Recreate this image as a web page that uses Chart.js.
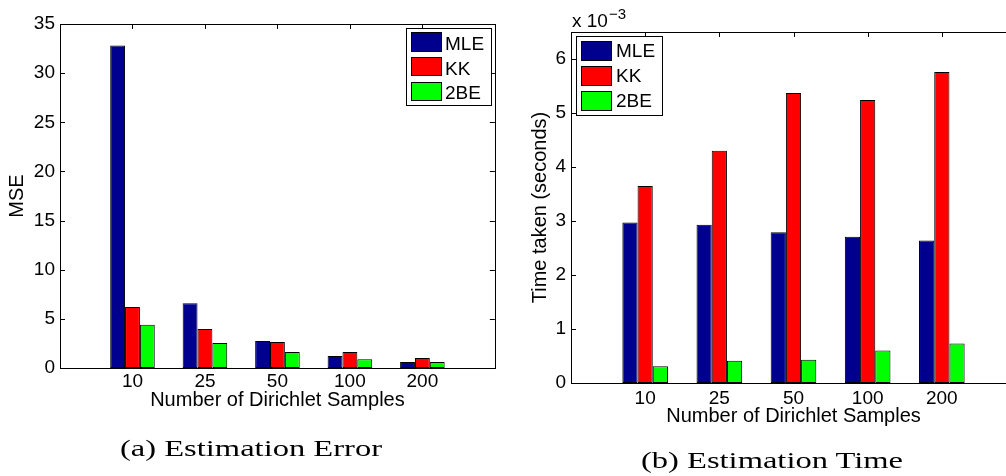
<!DOCTYPE html>
<html>
<head>
<meta charset="utf-8">
<script src="https://cdn.jsdelivr.net/npm/chart.js@4.4.0/dist/chart.umd.min.js"></script>
<style>
  html, body { margin: 0; padding: 0; background: #fff; overflow: hidden; }
  #wrap { position: relative; width: 1006px; height: 476px; overflow: hidden; }
  canvas { position: absolute; top: 0; }
  #errChart { left: 0; }
  #timeChart { left: 500px; }
  .lgbox { position: absolute; border: 1px solid #000; background: #fff; box-sizing: border-box; }
  .sw { position: absolute; border: 1px solid #000; box-sizing: border-box; }
  .lt { position: absolute; font: 19px/19px "Liberation Sans", Arial, sans-serif; color: #000; white-space: nowrap; }
  .cap { position: absolute; font: 24px/24px "Liberation Serif", serif; color: #000; white-space: nowrap; transform-origin: 0 0; }
</style>
</head>
<body>
<div id="wrap">
  <canvas id="errChart" width="500" height="476"></canvas>
  <canvas id="timeChart" width="530" height="476"></canvas>
  <div class="lt" style="left:572px;top:10.6px;">x 10</div>
  <div class="lt" style="left:609px;top:5.6px;font-size:15px;line-height:15px;">&minus;3</div>
  <div class="cap" id="capA" style="left:120px;top:436px;">(a) Estimation Error</div>
  <div class="cap" id="capB" style="left:641px;top:447.6px;">(b) Estimation Time</div>
</div>
<script>
// categories and series
const sampleSizes = ['10', '25', '50', '100', '200'];
const methodNames = ['MLE', 'KK', '2BE'];

// (a) mean squared error
const mseMLE = [32.8, 6.6, 2.75, 1.22, 0.62];
const mseKK = [6.2, 3.98, 2.65, 1.62, 1.02];
const mse2BE = [4.4, 2.55, 1.62, 0.9, 0.62];

// (b) time taken, in units of 10^-3 seconds
const timeMLE = [2.97, 2.93, 2.79, 2.71, 2.64];
const timeKK = [3.65, 4.30, 5.37, 5.24, 5.76];
const time2BE = [0.31, 0.41, 0.43, 0.60, 0.73];

// tick labels
const mseTicks = [0, 5, 10, 15, 20, 25, 30, 35];
const timeTicks = [0, 1, 2, 3, 4, 5, 6];
const timeMax = 6.5;

const methodColors = ['#00008f', '#ff0000', '#00ff00'];
const fontFamily = '"Liberation Sans", Arial, sans-serif';

// MATLAB-like box with inward ticks on all four sides
const boxAxes = {
  id: 'boxAxes',
  beforeDatasetsDraw(chart) {
    const { ctx, chartArea, scales } = chart;
    const { left, right, top, bottom } = chartArea;
    const len = 5;
    ctx.save();
    ctx.strokeStyle = '#000';
    ctx.lineWidth = 1;
    ctx.beginPath();
    chart.data.labels.forEach((lab, i) => {
      if (lab.trim() === '') return;
      const px = Math.round(scales.x.getPixelForValue(i)) + 0.5;
      ctx.moveTo(px, top); ctx.lineTo(px, top + len);
      ctx.moveTo(px, bottom); ctx.lineTo(px, bottom - len);
    });
    scales.y.ticks.forEach(t => {
      const py = Math.round(scales.y.getPixelForValue(t.value)) + 0.5;
      ctx.moveTo(left, py); ctx.lineTo(left + len, py);
      ctx.moveTo(right, py); ctx.lineTo(right - len, py);
    });
    ctx.stroke();
    ctx.strokeRect(Math.round(left) + 0.5, Math.round(top) + 0.5,
                   Math.round(right - left), Math.round(bottom - top));
    ctx.restore();
  }
};

function makeChart(id, series, yMax, yTicks, yTitle, lay) {
  const labels = [''].concat(sampleSizes, [' ']);
  const datasets = series.map((vals, i) => ({
    label: methodNames[i],
    data: [null].concat(vals, [null]),
    backgroundColor: methodColors[i],
    borderColor: '#000',
    borderWidth: 1,
    borderSkipped: false
  }));
  return new Chart(document.getElementById(id), {
    type: 'bar',
    data: { labels: labels, datasets: datasets },
    plugins: [boxAxes],
    options: {
      responsive: false,
      animation: false,
      events: [],
      layout: { padding: { left: 0, right: lay.padRight, top: lay.padTop, bottom: 0 } },
      plugins: { legend: { display: false }, tooltip: { enabled: false } },
      datasets: { bar: { categoryPercentage: 0.615, barPercentage: 1 } },
      scales: {
        x: {
          offset: false,
          grid: { display: false, drawTicks: false },
          border: { display: false },
          ticks: {
            color: '#000', padding: lay.xTickPad, maxRotation: 0, autoSkip: false,
            font: { family: fontFamily, size: 19 }
          },
          title: {
            display: true, text: 'Number of Dirichlet Samples', color: '#000',
            font: { family: fontFamily, size: 20 },
            padding: { top: 0, bottom: lay.xTitlePad }
          },
          afterFit: s => { s.height = lay.xHeight; }
        },
        y: {
          min: 0, max: yMax,
          grid: { display: false, drawTicks: false },
          border: { display: false },
          ticks: { color: '#000', padding: 5, font: { family: fontFamily, size: 19 } },
          afterBuildTicks: s => { s.ticks = yTicks.map(v => ({ value: v })); },
          title: {
            display: true, text: yTitle, color: '#000',
            font: { family: fontFamily, size: 20 },
            padding: { top: lay.yTitlePad, bottom: 0 }
          },
          afterFit: s => { s.width = lay.yWidth; }
        }
      }
    }
  });
}

makeChart('errChart', [mseMLE, mseKK, mse2BE], 35, mseTicks, 'MSE',
  { padRight: 5, padTop: 24, xHeight: 108, yWidth: 60, xTickPad: 2.5, xTitlePad: 63.7, yTitlePad: 5.5 });
makeChart('timeChart', [timeMLE, timeKK, time2BE], timeMax, timeTicks, 'Time taken (seconds)',
  { padRight: 14, padTop: 32, xHeight: 93, yWidth: 71, xTickPad: 4.4, xTitlePad: 47.7, yTitlePad: 28 });

// legends built from the series names and colours
function makeLegend(cfg) {
  const wrap = document.getElementById('wrap');
  const box = document.createElement('div');
  box.className = 'lgbox';
  box.style.cssText = `left:${cfg.box[0]}px;top:${cfg.box[1]}px;width:${cfg.box[2]}px;height:${cfg.box[3]}px;`;
  wrap.appendChild(box);
  methodNames.forEach((name, i) => {
    const swTop = cfg.firstTop + i * cfg.pitch;
    const sw = document.createElement('div');
    sw.className = 'sw';
    sw.style.cssText = `left:${cfg.swX}px;top:${swTop}px;width:31px;height:${cfg.swH}px;background:${methodColors[i]};`;
    wrap.appendChild(sw);
    const t = document.createElement('div');
    t.className = 'lt';
    t.textContent = name;
    t.style.cssText = `left:${cfg.textX}px;top:${swTop + cfg.swH - cfg.baseUp - 16.1}px;`;
    wrap.appendChild(t);
  });
}
makeLegend({ box: [406, 28, 86, 78], swX: 411, textX: 445, firstTop: 32.3, pitch: 24.7, swH: 19.4, baseUp: 1.7 });
makeLegend({ box: [576, 36, 87, 80], swX: 581, textX: 616, firstTop: 40.7, pitch: 25, swH: 20, baseUp: 3.4 });

// squeeze the serif captions to the reference width
function fitCaption(id, width) {
  const el = document.getElementById(id);
  const w = el.getBoundingClientRect().width;
  el.style.transform = `scaleX(${width / w})`;
}
fitCaption('capA', 262);
fitCaption('capB', 262);
</script>
</body>
</html>
